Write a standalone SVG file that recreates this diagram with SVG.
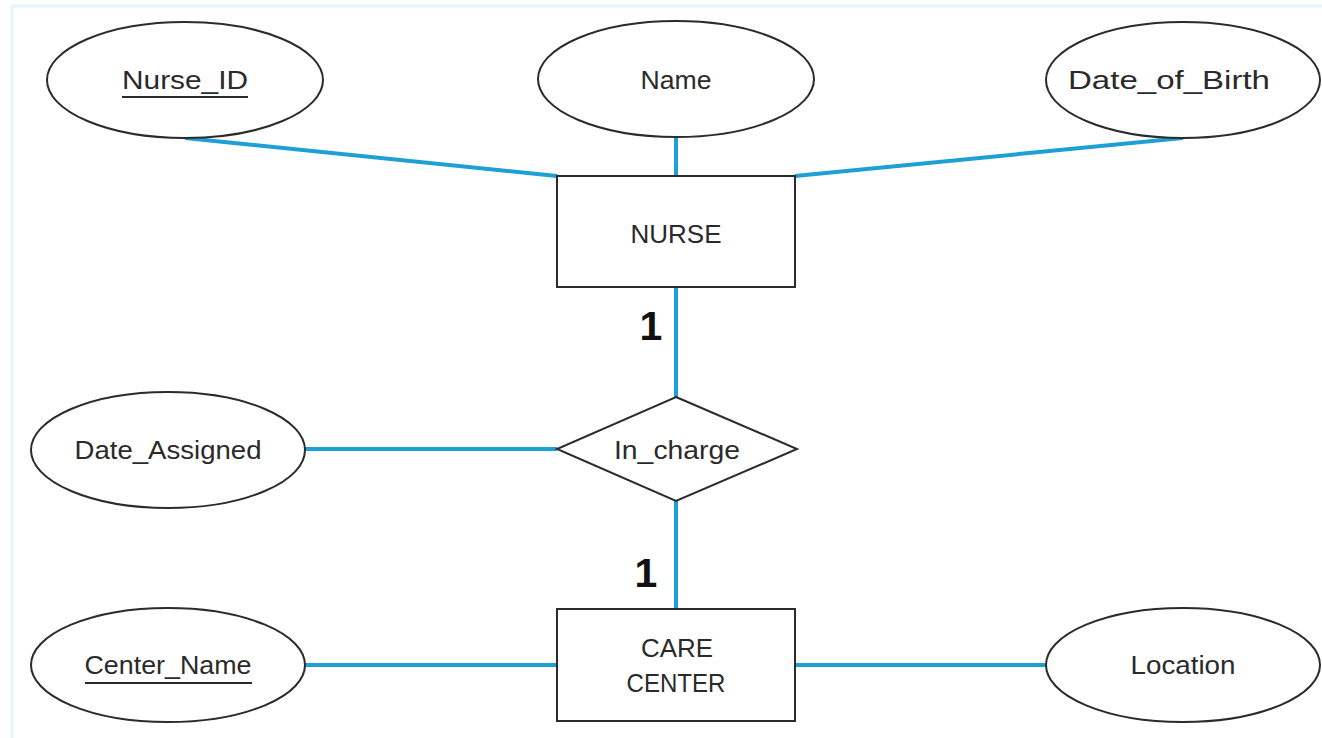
<svg xmlns="http://www.w3.org/2000/svg" width="1322" height="738" viewBox="0 0 1322 738">
  <style>
    .attr { fill: #ffffff; stroke: #2b2b2b; stroke-width: 2; }
    .ent { fill: #ffffff; stroke: #2b2b2b; stroke-width: 2; }
    .rel { fill: #ffffff; stroke: #2b2b2b; stroke-width: 2; }
    .lbl { font-family: "Liberation Sans", Arial, sans-serif; font-size: 25px; fill: #2a2a2a; text-anchor: middle; }
    .card { font-family: "Liberation Sans", Arial, sans-serif; font-size: 41px; font-weight: bold; fill: #111111; text-anchor: middle; }
    .key { stroke: #2a2a2a; stroke-width: 2; }
    #connectors line { stroke: #1e9fd6; stroke-width: 4; }
  </style>

  <rect x="0" y="0" width="1322" height="738" fill="#ffffff"/>
  <!-- faint page frame -->
  <path d="M12 738 V6 H1322" fill="none" stroke="#e4f6fb" stroke-width="3"/>

  <g id="connectors">
    <line x1="185" y1="138" x2="557" y2="176"/>
    <line x1="676" y1="137" x2="676" y2="176"/>
    <line x1="1183" y1="138" x2="795" y2="176"/>
    <line x1="676" y1="287" x2="676" y2="397"/>
    <line x1="305" y1="449" x2="557" y2="449"/>
    <line x1="676" y1="501" x2="676" y2="609"/>
    <line x1="305" y1="665" x2="557" y2="665"/>
    <line x1="795" y1="665" x2="1046" y2="665"/>
  </g>

  <g id="nurse_id">
    <ellipse class="attr" cx="185" cy="80" rx="138" ry="58"/>
    <text class="lbl" x="185" y="89" textLength="126" lengthAdjust="spacingAndGlyphs">Nurse_ID</text>
    <line class="key" x1="122" y1="97" x2="248" y2="97"/>
  </g>

  <g id="name">
    <ellipse class="attr" cx="676" cy="79" rx="138" ry="58"/>
    <text class="lbl" x="676" y="89" textLength="71" lengthAdjust="spacingAndGlyphs">Name</text>
  </g>

  <g id="date_of_birth">
    <ellipse class="attr" cx="1183" cy="80" rx="137" ry="58"/>
    <text class="lbl" x="1169" y="89" textLength="202" lengthAdjust="spacingAndGlyphs">Date_of_Birth</text>
  </g>

  <g id="nurse">
    <rect class="ent" x="557" y="176" width="238" height="111"/>
    <text class="lbl" x="676" y="243" textLength="91" lengthAdjust="spacingAndGlyphs">NURSE</text>
  </g>

  <g id="card_nurse">
    <text class="card" x="651" y="340">1</text>
  </g>

  <g id="date_assigned">
    <ellipse class="attr" cx="168" cy="450" rx="137" ry="58"/>
    <text class="lbl" x="168" y="459" textLength="187" lengthAdjust="spacingAndGlyphs">Date_Assigned</text>
  </g>

  <g id="in_charge">
    <polygon class="rel" points="676,397 797,449 676,501 557,449"/>
    <text class="lbl" x="677" y="459" textLength="126" lengthAdjust="spacingAndGlyphs">In_charge</text>
  </g>

  <g id="card_center">
    <text class="card" x="646" y="587">1</text>
  </g>

  <g id="center_name">
    <ellipse class="attr" cx="168" cy="665" rx="137" ry="57"/>
    <text class="lbl" x="168" y="674" textLength="167" lengthAdjust="spacingAndGlyphs">Center_Name</text>
    <line class="key" x1="85" y1="683" x2="252" y2="683"/>
  </g>

  <g id="care_center">
    <rect class="ent" x="557" y="609" width="238" height="112"/>
    <text class="lbl" x="677" y="657" textLength="72" lengthAdjust="spacingAndGlyphs">CARE</text>
    <text class="lbl" x="676" y="692" textLength="99" lengthAdjust="spacingAndGlyphs">CENTER</text>
  </g>

  <g id="location">
    <ellipse class="attr" cx="1183" cy="665" rx="137" ry="57"/>
    <text class="lbl" x="1183" y="674" textLength="105" lengthAdjust="spacingAndGlyphs">Location</text>
  </g>
</svg>
